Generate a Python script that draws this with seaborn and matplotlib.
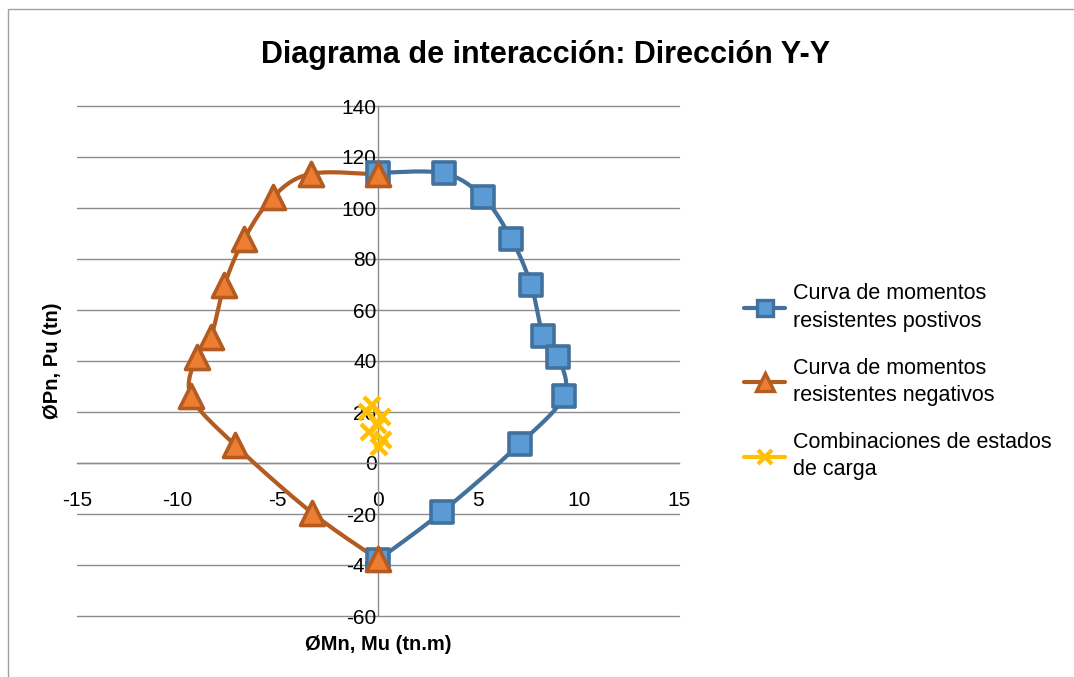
import numpy as np
import pandas as pd
import matplotlib
matplotlib.use("Agg")
import matplotlib.pyplot as plt
from matplotlib.lines import Line2D
from matplotlib.patches import Rectangle
import seaborn as sns

# --- DATOS ---
# Curva de momentos resistentes positivos
M_pos = [0.0, 3.27, 5.22, 6.65, 7.63, 8.23, 8.97, 9.27, 7.07, 3.20, 0.0]
P_pos = [113.8, 113.6, 104.4, 87.8, 69.8, 49.9, 41.7, 26.3, 7.5, -19.1, -38.0]

# Curva de momentos resistentes negativos
M_neg = [0.0, -3.35, -5.23, -6.68, -7.65, -8.32, -9.03, -9.32, -7.12, -3.28, 0.0]
P_neg = [113.2, 113.4, 104.4, 87.7, 69.8, 49.6, 41.7, 26.2, 7.0, -19.6, -37.8]

# Combinaciones de estados de carga
M_comb = [-0.30, 0.20, -0.55, 0.00, -0.45, 0.25, 0.05]
P_comb = [22.7, 18.0, 20.0, 15.0, 12.0, 9.0, 6.3]

x_ticks = [-15, -10, -5, 0, 5, 10, 15]
y_ticks = [-60, -40, -20, 0, 20, 40, 60, 80, 100, 120, 140]

labels = ["Curva de momentos\nresistentes postivos",
          "Curva de momentos\nresistentes negativos",
          "Combinaciones de estados\nde carga"]

AZUL_LINEA, AZUL_RELLENO = "#41719c", "#5b9bd5"
NARANJA_LINEA, NARANJA_RELLENO = "#b35b20", "#ed7d31"
AMARILLO = "#ffc000"


def suavizar(xs, ys, n=24):
    """Linea suavizada tipo Excel (Catmull-Rom) que pasa por los puntos."""
    pts = np.column_stack([xs, ys]).astype(float)
    p = np.vstack([pts[0], pts, pts[-1]])
    t = np.linspace(0, 1, n, endpoint=False)[:, None]
    segs = []
    for i in range(1, len(p) - 2):
        p0, p1, p2, p3 = p[i - 1], p[i], p[i + 1], p[i + 2]
        segs.append(0.5 * (2 * p1 + (-p0 + p2) * t
                           + (2 * p0 - 5 * p1 + 4 * p2 - p3) * t ** 2
                           + (-p0 + 3 * p1 - 3 * p2 + p3) * t ** 3))
    segs.append(pts[-1:])
    out = np.vstack(segs)
    return pd.DataFrame({"M": out[:, 0], "P": out[:, 1]})


sns.set_style("white")
plt.rcParams["font.family"] = ["Liberation Sans", "DejaVu Sans"]
plt.rcParams["text.color"] = "black"
plt.rcParams["axes.labelcolor"] = "black"
plt.rcParams["xtick.color"] = "black"
plt.rcParams["ytick.color"] = "black"

fig = plt.figure(figsize=(10.74, 6.77), dpi=100)
ax = fig.add_axes([77 / 1074, 1 - 616 / 677, 602 / 1074, 510 / 677])

# lineas suavizadas (sin agregacion: estimator=None)
sns.lineplot(data=suavizar(M_pos, P_pos), x="M", y="P", sort=False, estimator=None,
             ax=ax, color=AZUL_LINEA, lw=3.0, zorder=3)
sns.lineplot(data=suavizar(M_neg, P_neg), x="M", y="P", sort=False, estimator=None,
             ax=ax, color=NARANJA_LINEA, lw=3.0, zorder=4)

# marcadores
sns.scatterplot(x=M_pos, y=P_pos, ax=ax, marker="s", s=250, color=AZUL_RELLENO,
                edgecolor=AZUL_LINEA, linewidth=2.6, zorder=5)
sns.scatterplot(x=M_neg, y=P_neg, ax=ax, marker="^", s=300, color=NARANJA_RELLENO,
                edgecolor=NARANJA_LINEA, linewidth=2.6, zorder=6)
ax.plot(M_comb, P_comb, ls="none", marker="x", ms=11, mew=3.2,
        color=AMARILLO, zorder=7)

ax.set_xlim(-15, 15)
ax.set_ylim(-60, 140)
ax.set_xticks(x_ticks)
ax.set_yticks(y_ticks)
ax.set_xticklabels([str(v) for v in x_ticks])
ax.set_yticklabels([str(v) for v in y_ticks])

# ejes que cruzan en cero, estilo Excel
for s in ["top", "right"]:
    ax.spines[s].set_visible(False)
ax.spines["left"].set_position(("data", 0))
ax.spines["bottom"].set_position(("data", 0))
for s in ["left", "bottom"]:
    ax.spines[s].set_color("#8c8c8c")
    ax.spines[s].set_linewidth(1.0)
ax.yaxis.grid(True, color="#8c8c8c", lw=1.0)
ax.xaxis.grid(False)
ax.set_axisbelow(True)
for gl in ax.get_ygridlines():
    gl.set_clip_on(False)
ax.tick_params(axis="y", length=0, pad=1, labelsize=15)
ax.tick_params(axis="x", length=0, pad=20, labelsize=15)

ax.set_xlabel("ØMn, Mu (tn.m)", fontsize=14.5, fontweight="bold")
ax.set_ylabel("ØPn, Pu (tn)", fontsize=14.5, fontweight="bold")
ax.xaxis.set_label_coords(0.5, -0.037)
ax.yaxis.set_label_coords(-0.025, 0.5)

fig.text(546 / 1074, 1 - 55 / 677, "Diagrama de interacción: Dirección Y-Y",
         ha="center", va="center", fontsize=22, fontweight="bold")

handles = [
    Line2D([], [], color=AZUL_LINEA, lw=3.0, marker="s", ms=12,
           mfc=AZUL_RELLENO, mec=AZUL_LINEA, mew=2.4),
    Line2D([], [], color=NARANJA_LINEA, lw=3.0, marker="^", ms=13,
           mfc=NARANJA_RELLENO, mec=NARANJA_LINEA, mew=2.4),
    Line2D([], [], color=AMARILLO, lw=3.0, marker="x", ms=10, mew=3.0),
]
leg = fig.legend(handles, labels, loc="upper left",
                 bbox_to_anchor=(725 / 1074, 1 - 264 / 677),
                 frameon=False, fontsize=15.5, handlelength=1.9, handletextpad=0.35,
                 labelspacing=1.2)
for txt in leg.get_texts():
    txt.set_linespacing(1.4)

# marco del area del grafico
fig.add_artist(Rectangle((8 / 1074, -0.1), 1.2, 1 - 9 / 677 + 0.1,
                         transform=fig.transFigure, fill=False,
                         edgecolor="#a0a0a0", lw=1.0))

fig.savefig("out.png", dpi=100)
